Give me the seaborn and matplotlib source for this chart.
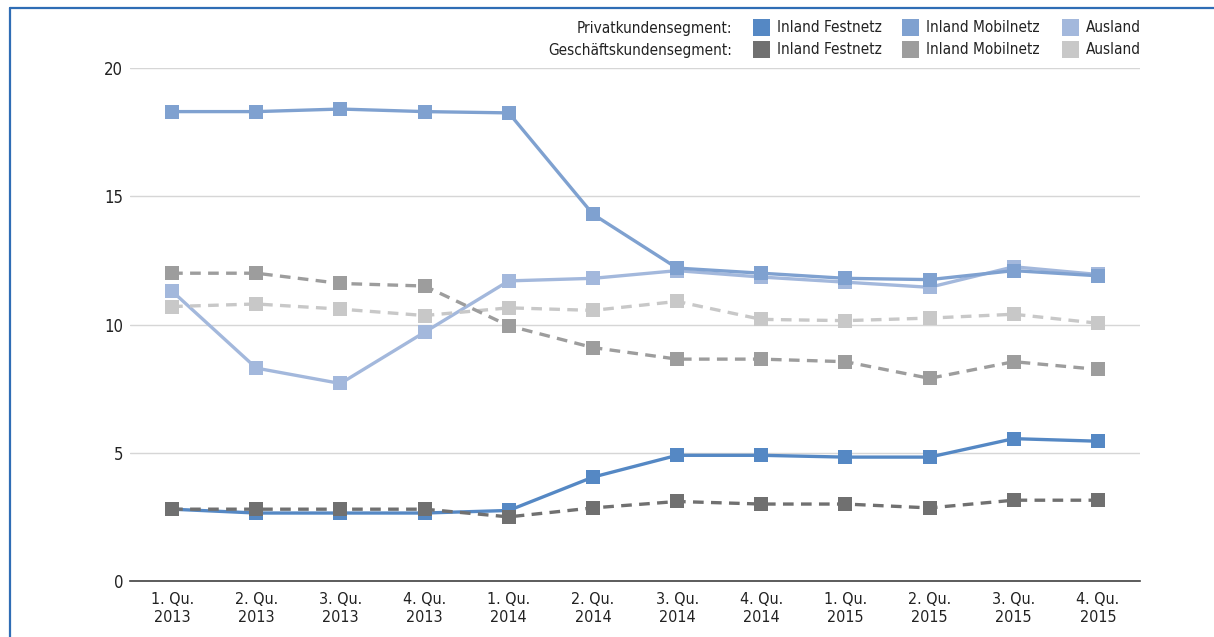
import matplotlib.pyplot as plt
import matplotlib.lines as mlines
import matplotlib.patches as mpatches
import pandas as pd
import seaborn as sns

sns.set_style('white')
plt.rcParams['font.family'] = ['DejaVu Sans']
plt.rcParams['font.stretch'] = 'condensed'

# quarters on the x axis
quarters = ['1. Qu.\n2013', '2. Qu.\n2013', '3. Qu.\n2013', '4. Qu.\n2013',
            '1. Qu.\n2014', '2. Qu.\n2014', '3. Qu.\n2014', '4. Qu.\n2014',
            '1. Qu.\n2015', '2. Qu.\n2015', '3. Qu.\n2015', '4. Qu.\n2015']

# Privatkundensegment
privat_festnetz = [2.8, 2.65, 2.65, 2.65, 2.75, 4.05, 4.9, 4.9, 4.83, 4.83, 5.55, 5.45]
privat_mobilnetz = [18.3, 18.3, 18.4, 18.3, 18.25, 14.3, 12.2, 12.0, 11.8, 11.75, 12.1, 11.9]
privat_ausland = [11.3, 8.3, 7.7, 9.7, 11.7, 11.8, 12.1, 11.85, 11.65, 11.45, 12.25, 11.95]

# Geschäftskundensegment
geschaeft_festnetz = [2.8, 2.8, 2.8, 2.8, 2.5, 2.85, 3.1, 3.0, 3.0, 2.85, 3.15, 3.15]
geschaeft_mobilnetz = [12.0, 12.0, 11.6, 11.5, 9.95, 9.1, 8.65, 8.65, 8.55, 7.9, 8.55, 8.25]
geschaeft_ausland = [10.7, 10.8, 10.6, 10.35, 10.65, 10.55, 10.9, 10.2, 10.15, 10.25, 10.4, 10.05]

series = [
    ('Privat', 'Inland Festnetz', privat_festnetz, '#5588C4'),
    ('Privat', 'Inland Mobilnetz', privat_mobilnetz, '#7FA1D0'),
    ('Privat', 'Ausland', privat_ausland, '#A3B8DC'),
    ('Geschaeft', 'Inland Festnetz', geschaeft_festnetz, '#707070'),
    ('Geschaeft', 'Inland Mobilnetz', geschaeft_mobilnetz, '#9D9D9D'),
    ('Geschaeft', 'Ausland', geschaeft_ausland, '#C8C8C8'),
]

fig = plt.figure(figsize=(12.14, 6.37), dpi=100)
ax = fig.add_axes([130 / 1214, 1 - 581 / 637, 1010 / 1214, 513 / 637])

# draw order: Privat Ausland and Mobilnetz under Festnetz, Geschaeft dashed on top
for seg, name, vals, col in [series[2], series[1], series[0], series[5], series[4], series[3]]:
    df = pd.DataFrame({'q': range(len(quarters)), 'v': vals})
    line_ax = sns.lineplot(data=df, x='q', y='v', ax=ax, color=col, lw=2.4,
                           marker='s', markersize=9.5, markeredgewidth=0,
                           markerfacecolor=col)
    if seg == 'Geschaeft':
        line_ax.lines[-1].set_dashes((3.2, 2.2))
    line_ax.lines[-1].set_clip_on(False)

ax.set_xlim(-0.5, 11.5)
ax.set_ylim(0, 20)
ax.set_yticks([0, 5, 10, 15, 20])
ax.set_xticks(range(len(quarters)))
ax.set_xticklabels(quarters, fontsize=11.5, color='#222222', linespacing=1.2)
ax.tick_params(axis='y', labelsize=12, labelcolor='#222222', length=0, pad=5)
ax.tick_params(axis='x', length=0, pad=8)
ax.set_xlabel('')
ax.set_ylabel('')
for y in [5, 10, 15, 20]:
    ax.axhline(y, color='#D6D6D6', lw=1.0, zorder=0)
for s in ['top', 'right', 'left']:
    ax.spines[s].set_visible(False)
ax.spines['bottom'].set_color('#404040')
ax.spines['bottom'].set_linewidth(1.2)

# legend as text rows in the top right
W, H = 1214, 637
rows = [('Privatkundensegment:', 28, series[:3]), ('Geschäftskundensegment:', 50, series[3:])]
box_x = [753, 902, 1062]
text_x = [777, 926, 1086]
for title, ypix, ser in rows:
    fig.text(732 / W, 1 - ypix / H, title, ha='right', va='center', fontsize=11, color='#222222')
    for (seg, name, vals, col), bx, tx in zip(ser, box_x, text_x):
        fig.add_artist(mpatches.Rectangle((bx / W, 1 - (ypix + 8) / H), 17 / W, 17 / H,
                                          transform=fig.transFigure, color=col, lw=0))
        fig.text(tx / W, 1 - ypix / H, name, ha='left', va='center', fontsize=11, color='#222222')

# blue frame on the left and top edge
fig.add_artist(mlines.Line2D([10 / W, 10 / W], [0, 1 - 8 / H], color='#2F6DB5', lw=1.6,
                             transform=fig.transFigure))
fig.add_artist(mlines.Line2D([10 / W, 1], [1 - 8 / H, 1 - 8 / H], color='#2F6DB5', lw=1.6,
                             transform=fig.transFigure))

fig.savefig('out.png', dpi=100)
